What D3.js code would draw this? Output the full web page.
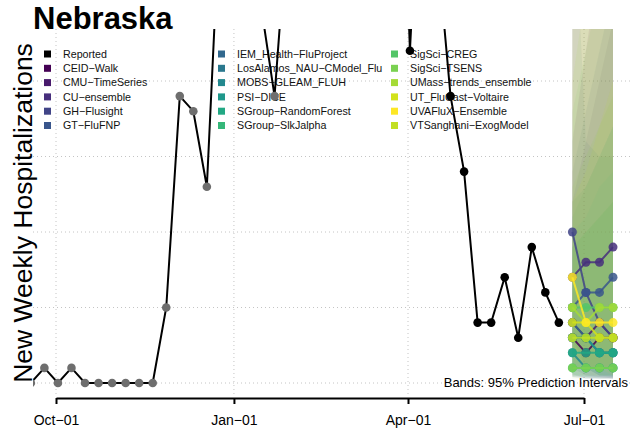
<!DOCTYPE html>
<html><head><meta charset="utf-8">
<script src="https://cdn.jsdelivr.net/npm/d3@7"></script>
<style>
body{margin:0;background:#fff}
svg{display:block}
text{font-family:"Liberation Sans",Arial,Helvetica,sans-serif}
</style>
</head><body>
<svg id="chart" width="630" height="434"></svg>
<script>
// ---------------- DATA ----------------
const reportedDates = ["2021-09-18","2021-09-25","2021-10-02","2021-10-09","2021-10-16","2021-10-23","2021-10-30","2021-11-06","2021-11-13","2021-11-20",
  "2021-11-27","2021-12-04","2021-12-11","2021-12-18","2021-12-25","2022-01-01","2022-01-08","2022-01-15","2022-01-22","2022-01-29",
  "2022-02-05","2022-02-12","2022-02-19","2022-02-26","2022-03-05","2022-03-12","2022-03-19","2022-03-26","2022-04-02","2022-04-09",
  "2022-04-16","2022-04-23","2022-04-30","2022-05-07","2022-05-14","2022-05-21","2022-05-28","2022-06-04","2022-06-11","2022-06-18"];
const reportedValues = [0,1,0,1,0,0,0,0,0,0,
  5,19,18,13,32,40,35,25,19,31,
  38,45,52,60,66,70,62,48,22,40,
  29,19,14,4,4,7,3,9,6,4];
const olderDataCutoff = "2022-02-01";

const models = ["CEID-Walk","CMU-TimeSeries","CU-ensemble","GH-Flusight","GT-FluFNP",
  "IEM_Health-FluProject","LosAlamos_NAU-CModel_Flu","MOBS-GLEAM_FLUH","PSI-DICE","SGroup-RandomForest","SGroup-SlkJalpha",
  "SigSci-CREG","SigSci-TSENS","UMass-trends_ensemble","UT_FluCast-Voltaire","UVAFluX-Ensemble","VTSanghani-ExogModel"];

const forecastDates = ["2022-06-25","2022-07-02","2022-07-09","2022-07-16"];
// point forecasts, one row per model (same order as models)
const forecastPoint = [
  [3,2,3,3],[4,3,4,3],[7,8,8,9],[10,6,4,3],[5,6,6,7],
  [4,3,2,2],[3,3,2,2],[2,1,1,1],[3,3,2,2],[2,2,2,2],[1,1,1,1],
  [5,5,5,5],[1,1,1,1],[5,4,5,5],[4,4,3,3],[7,4,4,4],[3,3,3,3]];
const forecastLower = [
  [0.4,0.3,0.3,0.3],[1,0.5,0.4,0.3],[2,1,1,1],[3,1,0.5,0.4],[1,1,1,1],
  [0.5,0.4,0.3,0.3],[1,1,0.5,0.5],[0.6,0.3,0.3,0.3],[1,1,0.5,0.5],[0.5,0.5,0.5,0.5],[0.4,0.4,0.4,0.4],
  [1,1,1,1],[0.3,0.3,0.3,0.3],[1,1,1,1],[1,1,1,0.5],[2,1,1,1],[0.5,0.5,0.5,0.5]];
const forecastUpper = [
  [16,22,28,32],[12,16,20,24],[24,30,36,40],[40,28,24,24],[14,18,22,26],
  [34,16,15,15],[11,13,15,17],[9,10,11,12],[12,13,15,17],[10,11,13,14],[9,10,11,12],
  [18,22,26,30],[13,15,17,19],[20,26,30,34],[26,32,38,44],[30,28,28,28],[12,14,17,20]];

const xTickDates = ["2021-10-01","2022-01-01","2022-04-01","2022-07-01"];
const xTickLabels = ["Oct\u221201","Jan\u221201","Apr\u221201","Jul\u221201"];
const yGridValues = [0,5,10,15,20];

// ---------------- STYLE ----------------
const modelColors = models.map((m,i)=> i<16 ? d3.interpolateViridis(i/15) : "#c2df23");

// ---------------- DRAW ----------------
const parse = d3.utcParse("%Y-%m-%d");
const svg = d3.select("#chart");
const plot = {left:33, right:630, top:29, bottom:397};

const x = d3.scaleUtc().domain([parse("2021-10-01"), parse("2022-07-01")]).range([56,584]);
const y = d3.scaleLinear().domain([0,20]).range([383,81]);

svg.append("defs").append("clipPath").attr("id","clip")
  .append("rect").attr("x",plot.left).attr("y",plot.top)
  .attr("width",plot.right-plot.left).attr("height",plot.bottom-plot.top);

// grid
const grid = svg.append("g").attr("stroke","#c4c4c4").attr("stroke-dasharray","1,3").attr("stroke-width",1);
grid.selectAll("line.h").data(yGridValues).join("line")
  .attr("x1",plot.left).attr("x2",plot.right)
  .attr("y1",d=>y(d)).attr("y2",d=>y(d));
grid.selectAll("line.v").data(xTickDates).join("line")
  .attr("x1",d=>x(parse(d))).attr("x2",d=>x(parse(d)))
  .attr("y1",plot.top).attr("y2",plot.bottom);

// legend
const legendItems = [{name:"Reported",color:"#000"}].concat(models.map((m,i)=>({name:m,color:modelColors[i]})));
const colX = [44,218,391];
const lg = svg.append("g");
legendItems.forEach((it,i)=>{
  const c = Math.floor(i/6), r = i%6;
  const cy = 54 + r*14.3;
  lg.append("rect").attr("x",colX[c]).attr("y",cy-3.5).attr("width",7).attr("height",7).attr("fill",it.color);
  lg.append("text").attr("x",colX[c]+19).attr("y",cy+3.8).attr("font-size","10.7px").attr("fill","#111").text(it.name.replace(/-/g,"\u2212"));
});

const g = svg.append("g").attr("clip-path","url(#clip)");

// bands
models.forEach((m,i)=>{
  const pts = forecastDates.map((d,j)=>({d:parse(d),lo:forecastLower[i][j],hi:forecastUpper[i][j]}));
  g.append("path").datum(pts)
    .attr("d", d3.area().x(p=>x(p.d)).y0(p=>y(p.lo)).y1(p=>y(p.hi)))
    .attr("fill",modelColors[i]).attr("fill-opacity",0.09);
});

// reported
const rep = reportedDates.map((d,i)=>({d:parse(d),v:reportedValues[i],old:d<olderDataCutoff}));
g.append("path").datum(rep)
  .attr("d", d3.line().x(p=>x(p.d)).y(p=>y(p.v)))
  .attr("fill","none").attr("stroke","#000").attr("stroke-width",2);
g.selectAll("circle.rep").data(rep).join("circle")
  .attr("cx",p=>x(p.d)).attr("cy",p=>y(p.v)).attr("r",4.3)
  .attr("fill",p=>p.old?"#6e6e6e":"#000");

// forecasts
models.forEach((m,i)=>{
  const pts = forecastDates.map((d,j)=>({d:parse(d),v:forecastPoint[i][j]}));
  g.append("path").datum(pts)
    .attr("d", d3.line().x(p=>x(p.d)).y(p=>y(p.v)))
    .attr("fill","none").attr("stroke",modelColors[i]).attr("stroke-width",2).attr("stroke-opacity",0.85);
  g.selectAll(null).data(pts).join("circle")
    .attr("cx",p=>x(p.d)).attr("cy",p=>y(p.v)).attr("r",4.5)
    .attr("fill",modelColors[i]).attr("fill-opacity",0.85);
});

// x axis
const ax = svg.append("g").attr("transform","translate(0,398)")
  .call(d3.axisBottom(x).tickValues(xTickDates.map(parse)).tickFormat((d,i)=>xTickLabels[i]).tickSize(6).tickSizeOuter(0).tickPadding(11));
ax.select(".domain").attr("stroke","#000").attr("stroke-width",2);
ax.selectAll(".tick line").attr("stroke","#000").attr("stroke-width",2);
ax.selectAll(".tick text").attr("font-size","14px").attr("fill","#000").attr("font-family","Liberation Sans, Arial, sans-serif");

// texts
svg.append("text").attr("x",33).attr("y",29).attr("font-size","31px").attr("font-weight","bold").attr("fill","#000").text("Nebraska");
svg.append("text").attr("transform","translate(32,213) rotate(-90)").attr("text-anchor","middle")
  .attr("font-size","26.5px").attr("fill","#000").text("New Weekly Hospitalizations");
svg.append("text").attr("x",628).attr("y",387).attr("text-anchor","end").attr("font-size","13px").attr("fill","#000")
  .text("Bands: 95% Prediction Intervals");
</script>
</body></html>
